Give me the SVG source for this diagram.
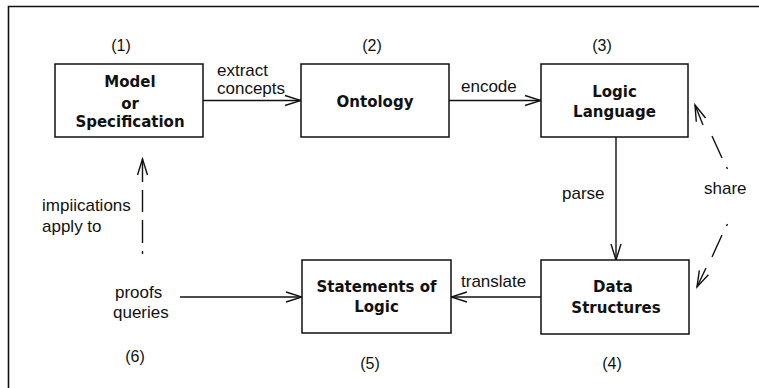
<svg xmlns="http://www.w3.org/2000/svg" width="759" height="388" viewBox="0 0 759 388">
  <style>
    .box { fill: #fff; stroke: #111; stroke-width: 1.5; }
    .title { font-family: "DejaVu Sans", "Liberation Sans", sans-serif; font-weight: bold; font-size: 15px; fill: #111; text-anchor: middle; }
    .lbl { font-family: "Liberation Sans", Arial, sans-serif; font-size: 17px; fill: #111; }
    .num { font-family: "Liberation Sans", Arial, sans-serif; font-size: 16px; fill: #111; text-anchor: middle; }
    .edge { fill: none; stroke: #111; stroke-width: 1.4; }
  </style>
  <defs>
    <marker id="open" markerUnits="userSpaceOnUse" viewBox="-18 -8 20 16" refX="0" refY="0" markerWidth="20" markerHeight="16" orient="auto">
      <path d="M-16,-5 L0,0 L-16,5" fill="none" stroke="#111" stroke-width="1.4"/>
    </marker>
  </defs>

  <rect width="759" height="388" fill="#fff"/>
  <!-- page frame -->
  <path d="M8.5,388 L8.5,6.5 L759,6.5" fill="none" stroke="#111" stroke-width="1.6"/>

  <g id="connectors">
    <path class="edge" d="M203,100.5 L301,100.5" marker-end="url(#open)"/>
    <path class="edge" d="M449,100.5 L541,100.5" marker-end="url(#open)"/>
    <path class="edge" d="M616,137 L616,260" marker-end="url(#open)"/>
    <path class="edge" d="M541,297 L451,297" marker-end="url(#open)"/>
    <path class="edge" d="M180,297 L302,297" marker-end="url(#open)"/>
    <!-- dashed: implications apply to -->
    <path class="edge" d="M142.5,254 L142.5,251 M142.5,243 L142.5,220 M142.5,212 L142.5,190 M142.5,182 L142.5,159" marker-end="url(#open)"/>
    <!-- dashed: share (up) -->
    <path class="edge" d="M727.5,169 L726.5,167 M722,158 L712,136 M703,125 L695,105" marker-end="url(#open)"/>
    <!-- dashed: share (down) -->
    <path class="edge" d="M727.5,224 L726.5,226 M722,235 L712,257 M706,268 L697,287" marker-end="url(#open)"/>

    <text class="lbl" x="217" y="76">extract</text>
    <text class="lbl" x="217" y="94">concepts</text>
    <text class="lbl" x="461" y="92">encode</text>
    <text class="lbl" x="562" y="199">parse</text>
    <text class="lbl" x="704" y="194">share</text>
    <text class="lbl" x="461" y="287">translate</text>
    <text class="lbl" x="42" y="211">impiications</text>
    <text class="lbl" x="42" y="232">apply to</text>
  </g>

  <g id="n1">
    <rect class="box" x="55" y="64" width="148" height="73"/>
    <text class="title" x="130" y="87">Model</text>
    <text class="title" x="130" y="109">or</text>
    <text class="title" x="130" y="127">Specification</text>
    <text class="num" x="121" y="51">(1)</text>
  </g>

  <g id="n2">
    <rect class="box" x="301" y="64" width="148" height="73"/>
    <text class="title" x="375" y="107">Ontology</text>
    <text class="num" x="372" y="51">(2)</text>
  </g>

  <g id="n3">
    <rect class="box" x="541" y="64" width="147" height="73"/>
    <text class="title" x="614.5" y="97">Logic</text>
    <text class="title" x="614.5" y="117">Language</text>
    <text class="num" x="602" y="51">(3)</text>
  </g>

  <g id="n4">
    <rect class="box" x="541" y="260" width="148" height="74"/>
    <text class="title" x="613" y="292">Data</text>
    <text class="title" x="616" y="313">Structures</text>
    <text class="num" x="612" y="369">(4)</text>
  </g>

  <g id="n5">
    <rect class="box" x="302" y="260" width="149" height="73"/>
    <text class="title" x="376.5" y="292">Statements of</text>
    <text class="title" x="376.5" y="312">Logic</text>
    <text class="num" x="370" y="369">(5)</text>
  </g>

  <g id="n6">
    <text class="lbl" x="115" y="298">proofs</text>
    <text class="lbl" x="113" y="318">queries</text>
    <text class="num" x="135" y="362">(6)</text>
  </g>
</svg>
